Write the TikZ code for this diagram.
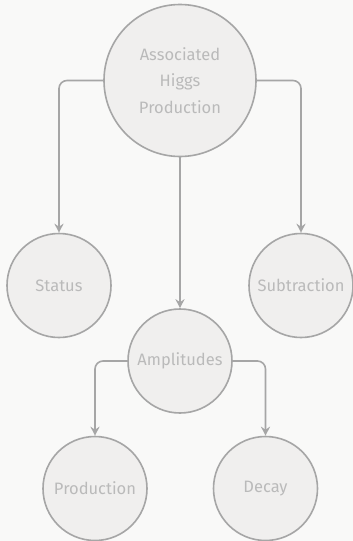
\documentclass[tikz,border=0pt]{standalone}
\usepackage{fontspec}
\setmainfont{Fira Sans}
\usetikzlibrary{arrows.meta}
\definecolor{pagebg}{HTML}{F9F9F8}
\definecolor{bubblefill}{HTML}{F0EFEE}
\definecolor{bubbleline}{HTML}{A6A6A6}
\definecolor{bubbletext}{HTML}{BABABA}
\tikzset{
  topic/.style={circle, draw=bubbleline, fill=bubblefill, line width=1.6pt,
    text=bubbletext, font=\fontsize{16.5}{26.5}\selectfont, align=center,
    inner sep=0pt, minimum size=104pt},
  link/.style={draw=bubbleline, line width=1.6pt, rounded corners=8pt,
    -{Stealth[length=9pt,width=9pt,inset=3pt]}}
}
\begin{document}
\begin{tikzpicture}[x=1pt,y=-1pt]
  \fill[pagebg] (0,0) rectangle (353,541);
  \useasboundingbox (0,0) rectangle (353,541);
  % bubbles
  \node[topic, minimum size=152pt] (higgs) at (180,80.5) {Associated\\Higgs\\Production};
  \node[topic] (status) at (59,285.5) {Status};
  \node[topic] (subtr) at (301,285.5) {Subtraction};
  \node[topic] (ampl) at (180,361) {Amplitudes};
  \node[topic] (prod) at (95,488.5) {Production};
  \node[topic] (decay) at (265.5,488.5) {Decay};
  % links
  \draw[link] (higgs.west) -| (status.north);
  \draw[link] (higgs.east) -| (subtr.north);
  \draw[link] (higgs.south) -- (ampl.north);
  \draw[link] (ampl.west) -| (prod.north);
  \draw[link] (ampl.east) -| (decay.north);
\end{tikzpicture}
\end{document}
